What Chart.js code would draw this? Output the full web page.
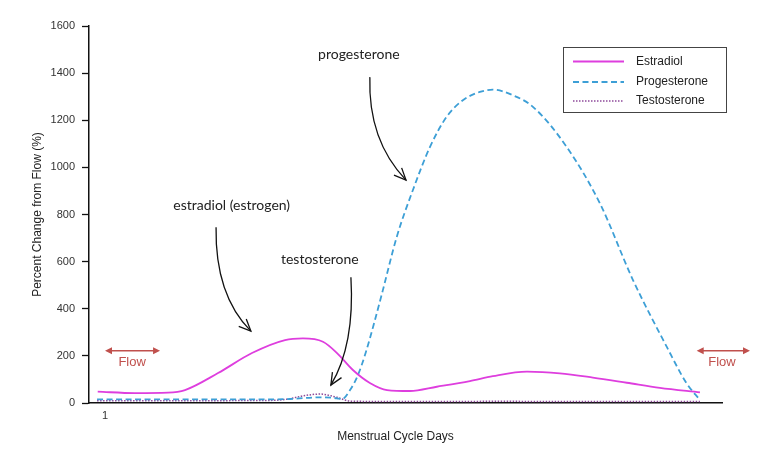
<!DOCTYPE html>
<html><head><meta charset="utf-8">
<script src="https://cdn.jsdelivr.net/npm/chart.js@4.4.0/dist/chart.umd.min.js"></script>
<style>html,body{margin:0;padding:0;background:#fff;}#wrap{width:768px;height:453px;position:relative;}</style>
</head><body><div id="wrap"><canvas id="c"></canvas></div>
<script>
// ---- data (cycle day, percent change from flow) ----
const estradiolDays   = [0.67, 2.36, 3.86, 4.63, 6.13, 7.67, 9.17, 9.98, 10.89, 11.53, 12.25, 13.02, 13.80, 14.84, 16.06, 17.56, 18.60, 20.15, 21.64, 23.14, 24.68, 26.18, 28.0];
const estradiolValues = [48, 42, 44, 55, 127, 212, 267, 274, 260, 212, 140, 85, 55, 51, 69, 93, 114, 133, 126, 108, 86, 64, 45];

const progesteroneDays   = [0.64, 3.04, 5.31, 7.58, 9.39, 10.76, 11.53, 11.75, 12.12, 12.48, 12.84, 13.25, 13.61, 14.24, 14.97, 15.75, 16.50, 17.24, 18.01, 18.60, 19.51, 20.42, 21.95, 23.46, 24.96, 26.49, 27.39, 28.0];
const progesteroneValues = [15, 15, 15, 15, 17, 24, 20, 16, 55, 119, 216, 352, 479, 705, 903, 1087, 1214, 1285, 1320, 1330, 1306, 1257, 1087, 847, 522, 239, 84, 13];

const testosteroneDays   = [0.64, 5.31, 8.49, 9.26, 9.98, 10.76, 11.53, 12.12, 14.38, 18.92, 23.46, 28.0];
const testosteroneValues = [10, 10, 11, 16, 30, 38, 24, 8, 6, 7, 6, 6];

const seriesNames = ['Estradiol', 'Progesterone', 'Testosterone'];
const yTickValues = [0, 200, 400, 600, 800, 1000, 1200, 1400, 1600];
const xTickValues = [1];
const xTitle = 'Menstrual Cycle Days';
const yTitle = 'Percent Change from Flow (%)';

// annotation anchors in data units [day, value]
const annotations = [
  {text: 'estradiol (estrogen)', at: [6.75, 840], from: [6.04, 746], ctrl: [5.99, 458], to: [7.62, 305]},
  {text: 'testosterone',         at: [10.75, 611], from: [12.16, 534], ctrl: [12.34, 246], to: [11.25, 76]},
  {text: 'progesterone',         at: [12.52, 1480], from: [13.02, 1383], ctrl: [12.93, 1115], to: [14.66, 946]}
];
const flowMarks = [
  {from: 1.0, to: 3.5, arrowValue: 222, textDay: 2.23, textValue: 173},
  {from: 27.85, to: 30.27, arrowValue: 222, textDay: 29.0, textValue: 173}
];

const zip = (xs, ys) => xs.map((x, i) => ({x: x, y: ys[i]}));
const colors = ['#de3ede', '#3d9fd6', '#8e4a9a'];
const dashes = [[], [6, 3.5], [1.5, 1.5]];

const overlay = {
  id: 'overlay',
  afterDraw(chart) {
    const ctx = chart.ctx, xs = chart.scales.x, ys = chart.scales.y, ca = chart.chartArea;
    const P = (d, v) => [xs.getPixelForValue(d), ys.getPixelForValue(v)];
    ctx.save();
    // x title
    ctx.fillStyle = '#222';
    ctx.font = '12px "Liberation Sans", Arial, sans-serif';
    ctx.textAlign = 'center'; ctx.textBaseline = 'middle';
    ctx.fillText(xTitle, (ca.left + ca.right) / 2 - 10, 437);

    // annotations with curved arrows
    ctx.font = '14px Lato, "Noto Sans", sans-serif';
    ctx.fillStyle = '#222';
    annotations.forEach(a => {
      const t = P(a.at[0], a.at[1]);
      ctx.fillText(a.text, t[0], t[1]);
      const s = P(a.from[0], a.from[1]), c = P(a.ctrl[0], a.ctrl[1]), e = P(a.to[0], a.to[1]);
      ctx.strokeStyle = '#111'; ctx.lineWidth = 1.3; ctx.setLineDash([]);
      ctx.beginPath(); ctx.moveTo(s[0], s[1]); ctx.quadraticCurveTo(c[0], c[1], e[0], e[1]); ctx.stroke();
      const ang = Math.atan2(e[1] - c[1], e[0] - c[0]);
      const L = 13, spread = 0.42;
      ctx.beginPath();
      ctx.moveTo(e[0] - L * Math.cos(ang - spread), e[1] - L * Math.sin(ang - spread));
      ctx.lineTo(e[0], e[1]);
      ctx.lineTo(e[0] - L * Math.cos(ang + spread), e[1] - L * Math.sin(ang + spread));
      ctx.stroke();
    });

    // flow arrows
    const red = '#c0504d';
    flowMarks.forEach(f => {
      const a = P(f.from, f.arrowValue), b = P(f.to, f.arrowValue);
      ctx.strokeStyle = red; ctx.fillStyle = red; ctx.lineWidth = 1.5;
      ctx.beginPath(); ctx.moveTo(a[0] + 3, a[1]); ctx.lineTo(b[0] - 3, b[1]); ctx.stroke();
      [[a[0], 1], [b[0], -1]].forEach(([x, dir]) => {
        ctx.beginPath();
        ctx.moveTo(x, a[1]);
        ctx.lineTo(x + dir * 7, a[1] - 3.5);
        ctx.lineTo(x + dir * 7, a[1] + 3.5);
        ctx.closePath(); ctx.fill();
      });
      const t = P(f.textDay, f.textValue);
      ctx.font = '13px "Liberation Sans", Arial, sans-serif';
      ctx.fillText('Flow', t[0], t[1]);
    });

    // legend box
    const bx = ca.right - 159, by = ca.top + 21, bw = 163, bh = 65;
    ctx.strokeStyle = '#444'; ctx.lineWidth = 1; ctx.setLineDash([]);
    ctx.strokeRect(bx + 0.5, by + 0.5, bw, bh);
    ctx.font = '12px "Liberation Sans", Arial, sans-serif';
    ctx.textAlign = 'left'; ctx.textBaseline = 'middle';
    const rows = [by + 14.5, by + 35, by + 54];
    seriesNames.forEach((n, i) => {
      ctx.strokeStyle = colors[i]; ctx.lineWidth = i === 2 ? 1.5 : 1.8;
      ctx.setLineDash(dashes[i]);
      ctx.beginPath(); ctx.moveTo(bx + 10, rows[i]); ctx.lineTo(bx + 61, rows[i]); ctx.stroke();
      ctx.setLineDash([]);
      ctx.fillStyle = '#222';
      ctx.fillText(n, bx + 73, rows[i]);
    });
    ctx.restore();
  }
};

new Chart(document.getElementById('c'), {
  type: 'line',
  data: {
    datasets: [
      {label: seriesNames[0], data: zip(estradiolDays, estradiolValues)},
      {label: seriesNames[1], data: zip(progesteroneDays, progesteroneValues)},
      {label: seriesNames[2], data: zip(testosteroneDays, testosteroneValues)}
    ].map((d, i) => Object.assign(d, {
      borderColor: colors[i], borderWidth: i === 2 ? 1.5 : 1.8, borderDash: dashes[i],
      pointRadius: 0, fill: false, cubicInterpolationMode: 'monotone'
    }))
  },
  options: {
    responsive: true, maintainAspectRatio: false, animation: false,
    layout: {padding: {left: 0, top: 26, right: 46, bottom: 0}},
    plugins: {legend: {display: false}, tooltip: {enabled: false}},
    scales: {
      x: {
        type: 'linear', min: 0.274, max: 29,
        afterBuildTicks: s => { s.ticks = xTickValues.map(v => ({value: v})); },
        afterFit: s => { s.height = 50; },
        grid: {display: true, drawOnChartArea: false, drawTicks: false},
        border: {display: true, color: '#111', width: 1.5},
        ticks: {padding: 6, color: '#333', callback: v => String(v),
          font: {size: 11, family: '"Liberation Sans", Arial, sans-serif'}}
      },
      y: {
        min: 0, max: 1600,
        afterBuildTicks: s => { s.ticks = yTickValues.map(v => ({value: v})); },
        afterFit: s => { s.width = 89; },
        grid: {display: true, drawOnChartArea: false, drawTicks: true, tickLength: 7, color: '#111', tickWidth: 1.3},
        border: {display: true, color: '#111', width: 1.5},
        ticks: {padding: 7, color: '#333', callback: v => String(v),
          font: {size: 11, family: '"Liberation Sans", Arial, sans-serif'}},
        title: {display: true, text: yTitle, color: '#222', padding: {top: 30, bottom: 0},
          font: {size: 12, family: '"Liberation Sans", Arial, sans-serif'}}
      }
    }
  },
  plugins: [overlay]
});
</script>
</body></html>
